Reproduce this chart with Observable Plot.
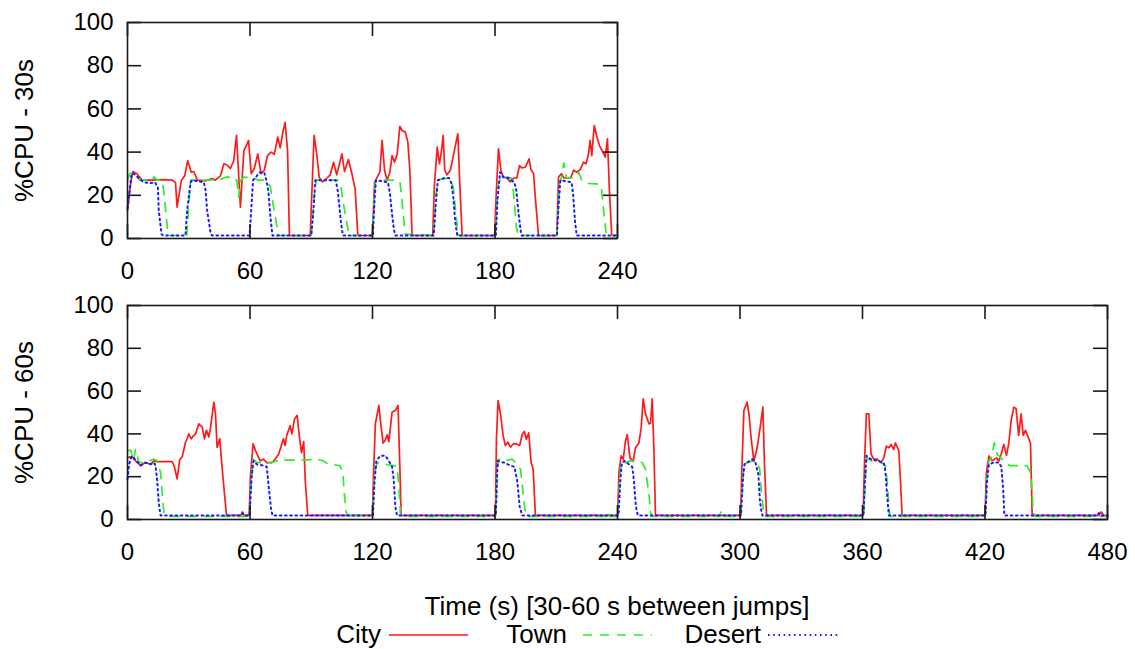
<!DOCTYPE html>
<html><head><meta charset="utf-8">
<script src="https://cdn.jsdelivr.net/npm/d3@7"></script>
<script src="https://cdn.jsdelivr.net/npm/@observablehq/plot@0.6"></script>
<style>
body{margin:0;background:#fff;font-family:"Liberation Sans",Arial,sans-serif;}
#wrap{position:relative;width:1135px;height:649px;overflow:hidden;}
#top{position:absolute;left:0;top:0;}
#bottom{position:absolute;left:0;top:280px;}
.t{position:absolute;font-size:26px;color:#000;white-space:nowrap;line-height:26px;}
</style></head><body>
<div id="wrap"><div id="top"></div><div id="bottom"></div>
<div class="t" id="xtitle" style="left:217px;width:800px;text-align:center;top:593px;">Time (s) [30-60 s between jumps]</div>
<div id="legend"></div></div>
<script>
const seriesNames = ["City", "Town", "Desert"];
const seriesColors = ["#ff1a1a", "#2bee2b", "#1a1aff"];
const yTicks = [0, 20, 40, 60, 80, 100];
const xTicksTop = [0, 60, 120, 180, 240];
const xTicksBottom = [0, 60, 120, 180, 240, 300, 360, 420, 480];
const yTitles = ["%CPU - 30s", "%CPU - 60s"];
const xTitle = "Time (s) [30-60 s between jumps]";

// 30 s between jumps : [time s, %CPU]
const city30 = [[0,13],[1.5,25],[2.6,31],[4.6,30],[7.2,27],[12,27],[17,27.3],[21.9,27],[23.5,26],[24.3,14.5],[26.4,27],[28,29],[29.5,36],[31.2,30.7],[32.5,31],[34.2,27],[38.2,26.7],[41.4,27.8],[43,27],[45.5,29],[47.2,34.6],[48.8,34],[50.4,32.4],[52,36],[53.4,47.7],[55.3,14.5],[57,40.7],[58.6,43.8],[59.3,45.4],[60.6,30],[62.1,32.4],[63.8,39.2],[65.4,30],[67,31.6],[68.6,38.4],[70.3,40],[71.9,39],[73.6,46.9],[74.8,42],[76.1,49.2],[77.2,53.8],[78.4,40.7],[79.3,1.4],[89.5,1.4],[91.4,47.7],[92.7,39],[93.9,28.4],[95.5,26.2],[97.7,28],[99.3,29.5],[100.9,35.3],[102.5,29.5],[105,39.2],[106.3,31],[108.2,36.6],[109.9,30],[111.5,23],[112.8,1.4],[120,1.4],[121,26],[122.3,28.4],[123.6,30.7],[124.7,45.4],[125.9,31.6],[127.2,27],[128.5,30.7],[129.6,38.4],[130.8,35.3],[132.1,39.2],[133.4,51.9],[134.5,50],[136.1,49.2],[137.3,44.6],[138.3,31.6],[139.4,1.4],[149.5,1.4],[150.3,24.4],[151.7,42.3],[152.8,34.6],[153.8,40.7],[154.6,47.7],[155.4,31.6],[156.5,29.5],[158.1,31.6],[159.8,39.2],[161.1,45.4],[161.8,48.5],[162.8,24.4],[163.9,1.4],[179.8,1.4],[180.6,20.7],[181.7,41.5],[182.9,31.6],[184.1,28.4],[185.8,28],[187.5,26.2],[189.1,28],[190.7,28],[192,33.8],[193.1,32.7],[194.8,33],[195.6,34.6],[196.7,36.9],[197.6,32],[198.9,30],[199.7,19.6],[201.3,1.4],[210.3,1.4],[211.1,28.4],[212.5,30],[213.9,28],[216.1,28],[217.2,28.4],[218.5,31.6],[220.1,30.7],[221.8,32],[223.3,35.3],[224.6,34.6],[225.8,39.2],[226.6,45.4],[227.4,38.4],[228.6,52.3],[229.9,47],[231.2,43],[232.8,40],[234,37.7],[235.1,46.1],[236.1,20.7],[237.2,1.4],[240,1.4]];
const town30 = [[0,27],[1,30],[3,30],[5,28],[6,27],[12,27],[13,28.5],[14.5,27],[17,27],[18,20],[19.5,5],[20.5,1.4],[29,1.4],[30,15],[31,27],[40,27],[46,27.5],[48,28.4],[52,28.4],[53.5,27],[54.5,19],[55.5,27],[57,28.4],[62,28],[64,27],[68,27],[70,24],[72,12],[74,1.4],[90,1.4],[91.5,20],[92.5,27],[103,27],[104.5,24],[106.5,12],[108.5,1.4],[120,1.4],[120.8,20],[121.5,27],[132.4,27],[133.5,26],[135,12],[136,2],[150,1.4],[151,20],[152,27],[155.5,28],[158,27],[159.5,24],[161,10],[162,1.4],[180.2,1.4],[181.5,25],[183,28.4],[186,28.4],[188,28],[189,22],[190.5,5],[191.5,1.4],[210.3,1.4],[211.5,25],[212.5,28],[213.7,35],[215,28],[219,28],[221,30.5],[222.5,27],[225,25.5],[230,25.3],[232,24],[233,15],[234.5,1.4],[240,1.4]];
const desert30 = [[0,14],[1,22],[2,30],[3,30],[5.5,28],[7.9,26],[11.1,25.6],[13.5,26],[14.9,23.7],[15.3,13],[16.7,2],[17.5,1.4],[28.4,1.4],[29.2,13],[30.9,26],[31.7,27],[37.4,26],[38.2,22.6],[39,13],[40.8,2],[41.5,1.4],[59.8,1.4],[60.5,12],[61.5,27],[63,28.5],[64.5,30.5],[67,30.5],[68,27],[69,22],[70,10],[71,1.4],[90,1.4],[91,12],[92,27],[102,27],[103,22],[104.5,8],[105.5,1.4],[120.2,1.4],[121,18],[121.7,27],[127.6,26],[128.5,21],[129.5,12],[130.5,4],[131.2,1.4],[150,1.4],[151,16],[152,27],[155.5,28],[157.5,28],[158.5,26],[159.5,20],[160.5,8],[161.5,1.4],[180.4,1.4],[181.2,18],[182.5,30.7],[184,28.4],[186.5,28],[189.5,26],[190.5,22],[191.5,12],[192.5,4],[193,1.4],[210.3,1.4],[211.2,16],[212,27],[217.5,26],[218.3,20],[219.2,8],[220,1.4],[240,1.4]];

// 60 s between jumps : [time s, %CPU]
const city60 = [[0,29],[2.3,29.3],[3.9,27.4],[6.4,25.2],[8.8,26.6],[11.3,25.8],[12.9,27.4],[14.5,27],[17.8,27],[21.9,27],[23,24.6],[24.3,19],[25.6,28],[26.8,29.3],[28.4,36.1],[29.2,37.7],[30,40],[31.2,37.7],[32.2,39],[33.3,40],[34.9,44.7],[36.6,43.2],[37.7,37.7],[38.7,41.7],[39.8,38.6],[40.6,42.4],[42.3,54.8],[43.1,49.3],[43.9,33.7],[45.2,37.7],[46.3,24.6],[47.5,12.1],[48.5,1.9],[55.5,1.9],[56.3,3.5],[57,1.9],[59.6,1.9],[60.2,20],[61.5,35.4],[62.7,32.2],[63.8,29.8],[65,27.4],[66.6,28.2],[68.2,26.6],[70.7,26.6],[72.3,28.2],[74,30.5],[75.6,35.2],[76.4,37.7],[77.2,34.6],[78,39.3],[79.7,43.9],[80.5,40],[81.8,47],[83.1,48.6],[84.2,38.6],[85.2,31.2],[86.3,36.4],[87.1,17.7],[88.3,1.9],[120,1.9],[120.3,15],[121.4,44.7],[123.1,53.3],[124.2,43.6],[125.2,35.7],[126.3,37.2],[127.2,39.6],[128,36.4],[129.6,50.2],[131.2,50.9],[132.5,53.3],[133.4,24.6],[134,1.9],[180.2,1.9],[180.7,37.4],[181.5,55.6],[182.7,49.3],[184,39.1],[185.1,34.6],[186.3,36.1],[187.6,33.8],[188.9,35.3],[190.5,35.3],[192.1,34.6],[193.3,39.7],[194.4,41.2],[195.4,37.4],[196.5,40.5],[197.7,26.6],[198.7,23.5],[199.8,1.9],[240,1.9],[240.7,22],[241.8,29.7],[242.8,28.1],[243.9,36.6],[244.8,39.7],[246.1,28.8],[247.7,27.2],[248.8,33.5],[250.5,35.8],[251.6,42.8],[252.6,56.4],[253.7,49.4],[255.4,44.7],[256.2,45],[257,56.4],[257.8,33.5],[258.6,1.9],[300.3,1.9],[301.1,28.8],[301.9,50.9],[303.5,54.8],[304.4,49.3],[305.5,37.6],[306.8,27.2],[308.4,33.5],[310.1,44.4],[311.2,52.5],[312,25.7],[313,1.9],[360.3,1.9],[361,27.2],[361.9,49.4],[363.1,49.4],[364.2,30.5],[365.5,28.2],[367.2,28.2],[369.1,26.6],[370.4,28.8],[371.7,34.3],[372.9,33.5],[374,35.1],[375.3,32.7],[376.1,35.8],[377.8,32],[378.6,18],[379.4,1.9],[420,1.9],[420.7,22],[421.9,29.7],[423.5,27.4],[425.6,28.8],[426.8,27.4],[427.9,30.5],[429.2,35.1],[430.5,30],[431.7,35.8],[432.8,46.3],[434.1,52.5],[435.2,51.8],[436.5,39.3],[437.7,49.4],[438.7,39.3],[439.8,41.7],[441.4,37.9],[442.3,35.5],[443.1,1.9],[475.7,1.9],[476.9,3.5],[478.2,1.9],[480,1.9]];
const town60 = [[0,32],[1.5,32.5],[3,27.4],[3.9,32.7],[5.6,26.6],[8,26.6],[10.5,27.4],[13,28.2],[14.5,27.4],[16.2,22],[17,12],[17.8,3.4],[19.4,1.5],[59.6,1.5],[60.5,15],[61.5,28.2],[63.3,26.6],[66.6,26.6],[69.9,26.6],[73.1,27.4],[76.4,27.7],[85.4,27.7],[92.7,28.2],[96,27.4],[98.4,25.8],[104.1,25.2],[105.5,22],[106.1,12.9],[107.1,3.4],[108,1.8],[110,2],[110.7,3.5],[111.5,1.8],[116,1.8],[116.8,3.4],[117.6,1.8],[120.2,1.8],[121,22],[122.3,26.6],[126,25.8],[130.4,25.2],[132,24.6],[132.8,17],[133.7,2.5],[134.5,1.5],[180.3,1.5],[181,20],[181.7,28.2],[184,27.4],[188.4,28.2],[190,26.6],[192.5,23.5],[193.3,17],[194.1,9],[194.9,3],[195.5,1.5],[235,1.5],[235.5,3.5],[236.2,1.5],[240.2,1.5],[241,18],[241.8,26.6],[244,26.6],[246.4,27.4],[249.7,27.4],[252.1,26.6],[253.7,23.5],[255.4,12],[256.2,3.4],[257,1.5],[290,1.5],[290.6,3.5],[291.2,1.5],[300.3,1.5],[301.9,25.8],[303.5,26.6],[306,27.4],[308.4,26.6],[309.7,23.5],[310.5,12],[311.7,3],[312.5,1.5],[360.5,1.5],[361.5,20],[362.2,28.8],[364.5,27.4],[367.5,27.4],[370.4,25.8],[371.2,25.2],[372.1,18],[372.9,7],[373.4,2],[374,1.5],[420.2,1.5],[421,20],[421.9,27.4],[422.9,28.2],[424.6,35.8],[426,30.5],[428.4,28.2],[432,25.2],[436,25.2],[440.6,25.2],[442.3,22],[443,14],[443.6,3.4],[444.5,1.5],[480,1.5]];
const desert60 = [[0,19],[0.8,26],[2,29.6],[4.5,27.4],[6.4,25.2],[8.8,26.6],[11.3,25.8],[13,26.6],[13.7,25.2],[14.5,18.7],[15.3,7.9],[16.2,1.9],[55.5,1.9],[56.3,3],[57,1.9],[59.8,1.9],[60.8,20],[61.7,27.4],[63.3,25.8],[66.6,25.2],[68.2,24.6],[69,17],[70.3,5],[71,1.9],[120.2,1.9],[121,18],[121.9,27.4],[123.9,29.8],[126.3,29.8],[128,27.4],[129.6,24.6],[130.4,18.7],[131.2,6],[132,1.9],[180.4,1.9],[181.3,27.4],[184.3,26.6],[187.6,25.2],[189.5,24.6],[190.8,18.7],[192.1,6],[193.3,1.9],[240.5,1.9],[241.5,20],[242.2,26.6],[243.5,27.4],[245.6,25.8],[247.2,24.6],[248,18.7],[249,6],[250,1.9],[300.5,1.9],[301.5,20],[302.2,25.8],[303.5,26.6],[306,28.2],[307.6,26.6],[309,21],[309.8,8],[310.9,1.9],[360.5,1.9],[361.2,18],[361.9,29.8],[364,28.2],[367.2,27.4],[370.4,26.6],[371.2,22.6],[372,12],[372.9,1.9],[420.2,1.9],[421,18],[421.9,25.8],[424.3,26.6],[426.8,26.6],[428,24.6],[428.9,14],[429.5,1.9],[475,1.9],[475.7,3],[476.5,1.9],[480,1.9]];

const lineStyle = {
  City: {stroke: seriesColors[0], strokeWidth: 1.7},
  Town: {stroke: seriesColors[1], strokeWidth: 1.7, strokeDasharray: "9,8"},
  Desert: {stroke: seriesColors[2], strokeWidth: 2, strokeDasharray: "1.6,3.6"}
};
const FONT = "Liberation Sans, Arial, Helvetica, sans-serif";
const FS = 24;
const FS_TITLE = 26;

function toRows(arr) { return arr.map(([t, v]) => ({t, v})); }

function makePanel({series, xMax, xTicks, yTitle, width, height, marginTop, marginBottom, marginRight}) {
  const marginLeft = 127;
  const plotW = width - marginLeft - marginRight;
  const plotH = height - marginTop - marginBottom;
  const tl = 14;
  const marks = [];
  series.forEach((arr, i) => {
    marks.push(Plot.line(toRows(arr), {x: "t", y: "v", ...lineStyle[seriesNames[i]], strokeLinejoin: "round"}));
  });
  marks.push(
    Plot.frame({stroke: "#1a1a1a", strokeWidth: 1.6}),
    Plot.tickX(xTicks, {x: d => d, stroke: "#1a1a1a", strokeWidth: 1.6, insetTop: plotH - tl}),
    Plot.tickX(xTicks, {x: d => d, stroke: "#1a1a1a", strokeWidth: 1.6, insetBottom: plotH - tl}),
    Plot.tickY(yTicks, {y: d => d, stroke: "#1a1a1a", strokeWidth: 1.6, insetRight: plotW - tl}),
    Plot.tickY(yTicks, {y: d => d, stroke: "#1a1a1a", strokeWidth: 1.6, insetLeft: plotW - tl}),
    Plot.axisX({ticks: xTicks, tickSize: 0, tickPadding: 23, label: null, fontSize: FS, tickFormat: d => String(d)}),
    Plot.axisY({ticks: yTicks, tickSize: 0, tickPadding: 14, label: null, fontSize: FS, tickFormat: d => String(d)}),
    Plot.text([yTitle], {text: d => d, frameAnchor: "left", textAnchor: "middle", lineAnchor: "middle", dx: -103, rotate: -90, fontSize: FS_TITLE, fill: "#000"})
  );
  return Plot.plot({
    width, height, marginLeft, marginRight, marginTop, marginBottom,
    style: {fontFamily: FONT, fontSize: FS + "px", color: "#000", background: "transparent", overflow: "visible"},
    x: {domain: [0, xMax], label: null},
    y: {domain: [0, 100], label: null},
    marks
  });
}

document.getElementById("top").appendChild(makePanel({
  series: [city30, town30, desert30], xMax: 240, xTicks: xTicksTop, yTitle: yTitles[0],
  width: 640, height: 280, marginTop: 22, marginBottom: 42, marginRight: 23
}));
document.getElementById("bottom").appendChild(makePanel({
  series: [city60, town60, desert60], xMax: 480, xTicks: xTicksBottom, yTitle: yTitles[1],
  width: 1135, height: 300, marginTop: 25, marginBottom: 61, marginRight: 28
}));
document.getElementById("xtitle").textContent = xTitle;

// legend
const legendPos = [
  {textRight: 381, x1: 389, x2: 468},
  {textRight: 567, x1: 583, x2: 652},
  {textRight: 761, x1: 768, x2: 840}
];
const legend = document.getElementById("legend");
seriesNames.forEach((name, i) => {
  const p = legendPos[i];
  const t = document.createElement("div");
  t.className = "t";
  t.style.left = (p.textRight - 200) + "px";
  t.style.width = "200px";
  t.style.textAlign = "right";
  t.style.top = "621px";
  t.textContent = name;
  legend.appendChild(t);
  const st = lineStyle[name];
  const svg = d3.create("svg").attr("width", p.x2 - p.x1).attr("height", 6)
    .style("position", "absolute").style("left", p.x1 + "px").style("top", "632px");
  svg.append("line").attr("x1", 0).attr("x2", p.x2 - p.x1).attr("y1", 3).attr("y2", 3)
    .attr("stroke", st.stroke).attr("stroke-width", st.strokeWidth)
    .attr("stroke-dasharray", st.strokeDasharray || null);
  legend.appendChild(svg.node());
});
</script>
</body></html>
